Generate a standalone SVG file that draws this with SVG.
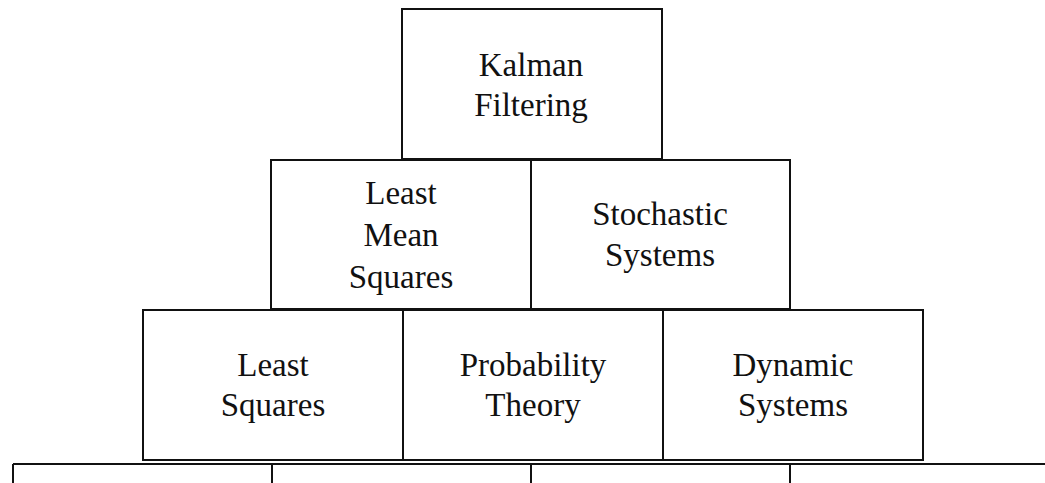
<svg xmlns="http://www.w3.org/2000/svg" width="1045" height="483" viewBox="0 0 1045 483">
<style>
.box{fill:#fff;stroke:#111;stroke-width:2}
.ln{stroke:#111;stroke-width:2;fill:none}
.t{font-family:'Liberation Serif','Times New Roman',Times,serif;font-size:33px;fill:#111;text-anchor:middle}
</style>
<rect width="1045" height="483" fill="#fff"/>
<g id="base">
<path class="ln" d="M13,464 H1045 M13,464 V483 M272,464 V483 M531,464 V483 M790,464 V483"/>
</g>
<g id="least-squares">
<rect class="box" x="143" y="310" width="260" height="150"/>
<text class="t" x="273" y="376">Least</text><text class="t" x="273" y="416">Squares</text>
</g>
<g id="probability-theory">
<rect class="box" x="403" y="310" width="260" height="150"/>
<text class="t" x="533" y="376">Probability</text><text class="t" x="533" y="416">Theory</text>
</g>
<g id="dynamic-systems">
<rect class="box" x="663" y="310" width="260" height="150"/>
<text class="t" x="793" y="376">Dynamic</text><text class="t" x="793" y="416">Systems</text>
</g>
<g id="least-mean-squares">
<rect class="box" x="271" y="160" width="260" height="149"/>
<text class="t" x="401" y="204">Least</text><text class="t" x="401" y="246">Mean</text><text class="t" x="401" y="288">Squares</text>
</g>
<g id="stochastic-systems">
<rect class="box" x="531" y="160" width="259" height="149"/>
<text class="t" x="660" y="225">Stochastic</text><text class="t" x="660" y="266">Systems</text>
</g>
<g id="kalman-filtering">
<rect class="box" x="402" y="9" width="260" height="150"/>
<text class="t" x="531" y="76">Kalman</text><text class="t" x="531" y="116">Filtering</text>
</g>
</svg>
